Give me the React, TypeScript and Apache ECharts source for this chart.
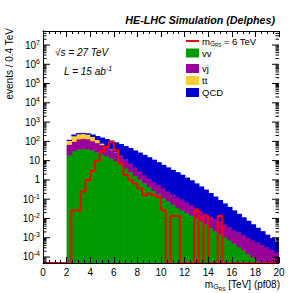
import React, { useEffect, useRef } from 'react';
import * as echarts from 'echarts';

// bin lower edges (TeV), bin width 0.4
const binLow = [
  0.0, 0.4, 0.8, 1.2, 1.6, 2.0, 2.4, 2.8, 3.2, 3.6,
  4.0, 4.4, 4.8, 5.2, 5.6, 6.0, 6.4, 6.8, 7.2, 7.6,
  8.0, 8.4, 8.8, 9.2, 9.6, 10.0, 10.4, 10.8, 11.2, 11.6,
  12.0, 12.4, 12.8, 13.2, 13.6, 14.0, 14.4, 14.8, 15.2, 15.6,
  16.0, 16.4, 16.8, 17.2, 17.6, 18.0, 18.4, 18.8, 19.2, 19.6,
];
const BIN_W = 0.4;

const vvValues = [
  0, 0, 0, 0, 0, 19.5, 31.6, 38.9, 41.7, 39.8,
  33.9, 27.5, 21.9, 17.4, 13.2, 9.55, 6.61, 4.17, 2.63, 1.66,
  1.05, 0.66, 0.417, 0.275, 0.178, 0.117, 0.0794, 0.0525, 0.0355, 0.0263,
  0.0191, 0.0141, 0.0105, 0.0076, 0.005, 0.0033, 0.0022, 0.0016, 0.0011, 0.00076,
  0.0005, 0.00033, 0.00022, 0.00014, 0.000095, 0.000063, 0, 0, 0, 0,
];
const vjValues = [
  0, 0, 0, 0, 0, 50, 68, 93, 100, 92,
  71, 56, 44, 33, 24, 16.8, 11.2, 7.0, 4.45, 2.81,
  1.77, 1.12, 0.75, 0.52, 0.36, 0.25, 0.17, 0.125, 0.097, 0.074,
  0.052, 0.036, 0.025, 0.0175, 0.0128, 0.0093, 0.0073, 0.0055, 0.0039, 0.0028,
  0.002, 0.00158, 0.0012, 0.00086, 0.00066, 0.0005, 0.00043, 0.00032, 0.00024, 0.00017,
];
const ttValues = [
  0, 0, 0, 0, 0, 40, 90, 108, 110, 97,
  69, 37, 13, 7.4, 2.6, 1.2, 0.5, 0.2, 0, 0,
  0, 0, 0, 0, 0, 0, 0, 0, 0, 0,
  0, 0, 0, 0, 0, 0, 0, 0, 0, 0,
  0, 0, 0, 0, 0, 0, 0, 0, 0, 0,
];
const qcdValues = [
  0, 0, 0, 0, 0, 11, 38, 29, 24, 34,
  55, 70, 79, 74, 70, 61.6, 54.1, 46.1, 37.6, 29.4,
  23.5, 18.2, 13.9, 10.4, 7.78, 5.67, 4.22, 3.13, 2.38, 1.76,
  1.25, 0.905, 0.625, 0.432, 0.298, 0.196, 0.128, 0.084, 0.0553, 0.0362,
  0.0238, 0.0155, 0.0101, 0.0066, 0.00425, 0.00275, 0.00176, 0.00113, 0.000715, 0.00046,
];
const signalValues = [
  0, 0, 0, 0, 0, 0, 0.027, 0.027, 0.25, 1.0,
  3.0, 10, 30, 53, 96, 35, 7.2, 1.8, 1.0, 0.66,
  0.37, 0.16, 0.2, 0.16, 0.126, 0.027, 0, 0.0135, 0.0135, 0,
  0, 0, 0.027, 0, 0.0135, 0, 0, 0.0135, 0, 0,
  0, 0, 0, 0, 0, 0, 0, 0, 0, 0,
];

// y tick labels (decades)
const yDecades = [-4, -3, -2, -1, 0, 1, 2, 3, 4, 5, 6, 7];
const yTickLabels = ['10{s|-4}', '10{s|-3}', '10{s|-2}', '10{s|-1}', '1', '10', '10{s|2}', '10{s|3}', '10{s|4}', '10{s|5}', '10{s|6}', '10{s|7}'];
const Y_MIN = 4.88e-5;
const Y_MAX = 5.33e7;

const FONT = '"Liberation Sans", Arial, Helvetica, sans-serif';

const layers = [
  { name: 'vv', values: vvValues, color: '#009900' },
  { name: 'vj', values: vjValues, color: '#990099' },
  { name: 'tt', values: ttValues, color: '#ffcc33' },
  { name: 'QCD', values: qcdValues, color: '#0000cc' },
];

export default function App() {
  const ref = useRef<HTMLDivElement>(null);
  useEffect(() => {
    if (!ref.current) return;
    const chart = echarts.init(ref.current, undefined, { renderer: 'svg' });

    // stacked layers
    const running = binLow.map(() => 0);
    const stackSeries = layers.map((layer, li) => {
      const data: number[][] = [];
      binLow.forEach((x, i) => {
        const v = layer.values[i];
        const lo = running[i];
        const hi = lo + v;
        running[i] = hi;
        if (v > 0 && hi > Y_MIN) data.push([x, x + BIN_W, Math.max(lo, Y_MIN), hi]);
      });
      return {
        type: 'custom',
        name: layer.name,
        z: 2 + li,
        encode: { x: [0, 1], y: [2, 3] },
        data,
        renderItem: (params: any, api: any) => {
          const p0 = api.coord([api.value(0), api.value(3)]);
          const p1 = api.coord([api.value(1), api.value(2)]);
          const cs = params.coordSys;
          const right = Math.min(p1[0] + 0.7, cs.x + cs.width);
          return {
            type: 'rect',
            shape: { x: p0[0], y: p0[1], width: right - p0[0], height: p1[1] - p0[1] + 0.3 },
            style: { fill: layer.color },
          };
        },
      };
    });

    // y ticks: decades (major, labelled) and 2..9 x 10^k (minor), ROOT style on left and right
    const yTickData: number[][] = [];
    yDecades.forEach((e, i) => yTickData.push([0, Math.pow(10, e), 1, i]));
    for (let e = -5; e <= 7; e++) {
      for (let m = 2; m <= 9; m++) {
        const v = m * Math.pow(10, e);
        if (v > Y_MIN && v < Y_MAX) yTickData.push([0, v, 0, -1]);
      }
    }

    const sigData = binLow.map((x, i) => [x, signalValues[i] > 0 ? signalValues[i] : Y_MIN]);
    const last = signalValues[signalValues.length - 1];
    sigData.push([20, last > 0 ? last : Y_MIN]);

    const xAxisCommon = {
      type: 'value',
      min: 0,
      max: 20,
      interval: 2,
      z: 10,
      axisLine: { show: true, lineStyle: { color: '#000', width: 1 } },
      axisTick: { show: true, inside: true, length: 6, lineStyle: { color: '#000' } },
      minorTick: { show: true, splitNumber: 4, length: 3, lineStyle: { color: '#000' } },
      splitLine: { show: false },
      minorSplitLine: { show: false },
    };
    const yAxisCommon = {
      type: 'log',
      min: Y_MIN,
      max: Y_MAX,
      logBase: 10,
      z: 10,
      axisLine: { show: true, lineStyle: { color: '#000', width: 1 } },
      axisTick: { show: false },
      axisLabel: { show: false },
      splitLine: { show: false },
    };

    const option: any = {
      animation: false,
      backgroundColor: '#fff',
      grid: { left: 43, right: 26, top: 31, bottom: 30, containLabel: false },
      xAxis: [
        {
          ...xAxisCommon,
          position: 'bottom',
          axisLabel: { show: true, margin: 4, fontSize: 10, color: '#000', fontFamily: FONT },
        },
        {
          ...xAxisCommon,
          position: 'top',
          axisLabel: { show: false },
        },
      ],
      yAxis: [
        { ...yAxisCommon, position: 'left' },
        { ...yAxisCommon, position: 'right' },
      ],
      series: [
        ...stackSeries,
        {
          type: 'line',
          name: 'signal',
          z: 8,
          step: 'end',
          symbol: 'none',
          data: sigData,
          lineStyle: { color: '#ff0000', width: 2 },
          clip: true,
        },
        {
          type: 'custom',
          name: 'yticks',
          z: 11,
          silent: true,
          clip: false,
          encode: { x: 0, y: 1 },
          data: yTickData,
          renderItem: (params: any, api: any) => {
            const cs = params.coordSys;
            const y = api.coord([0, api.value(1)])[1];
            const major = api.value(2) === 1;
            const len = major ? 7 : 3.5;
            const children: any[] = [
              { type: 'line', shape: { x1: cs.x, y1: y, x2: cs.x + len, y2: y }, style: { stroke: '#000', lineWidth: 1 } },
              { type: 'line', shape: { x1: cs.x + cs.width - len, y1: y, x2: cs.x + cs.width, y2: y }, style: { stroke: '#000', lineWidth: 1 } },
            ];
            if (major) {
              children.push({
                type: 'text',
                x: cs.x - 3,
                y,
                style: {
                  text: yTickLabels[api.value(3)],
                  align: 'right',
                  verticalAlign: 'middle',
                  fontSize: 10,
                  fontFamily: FONT,
                  fill: '#000',
                  rich: { s: { fontSize: 7, fontFamily: FONT, fill: '#000', padding: [0, 0, 6, 0] } },
                },
              });
            }
            return { type: 'group', children };
          },
        },
      ],
      graphic: [
        {
          type: 'text', x: 275, y: 20,
          style: { text: 'HE-LHC Simulation (Delphes)', align: 'right', verticalAlign: 'middle', fontSize: 10.7, fontWeight: 'bold', fontStyle: 'italic', fontFamily: FONT, fill: '#000' },
        },
        {
          type: 'text', x: 55, y: 52,
          style: { text: '√s = 27 TeV', align: 'left', verticalAlign: 'middle', fontSize: 10, fontStyle: 'italic', fontFamily: FONT, fill: '#000' },
        },
        {
          type: 'text', x: 64, y: 71,
          style: {
            text: 'L = 15 ab{s|-1}', align: 'left', verticalAlign: 'middle', fontSize: 10, fontStyle: 'italic', fontFamily: FONT, fill: '#000',
            rich: { s: { fontSize: 7, fontStyle: 'italic', fontFamily: FONT, fill: '#000', padding: [0, 0, 6, 0] } },
          },
        },
        {
          type: 'text', x: 9, y: 28, rotation: Math.PI / 2,
          style: { text: 'events / 0.4 TeV', align: 'right', verticalAlign: 'middle', fontSize: 10, fontFamily: FONT, fill: '#000' },
        },
        {
          type: 'text', x: 280, y: 284,
          style: {
            text: 'm{a|G}{b|RS} [TeV] (pf08)', align: 'right', verticalAlign: 'middle', fontSize: 10, fontFamily: FONT, fill: '#000',
            rich: {
              a: { fontSize: 7, fontFamily: FONT, fill: '#000', padding: [5, 0, 0, 0] },
              b: { fontSize: 5, fontFamily: FONT, fill: '#000', padding: [9, 0, 0, 0] },
            },
          },
        },
        // legend
        { type: 'line', shape: { x1: 186, y1: 41, x2: 199, y2: 41 }, style: { stroke: '#ff0000', lineWidth: 2 } },
        {
          type: 'text', x: 202, y: 41,
          style: {
            text: 'm{a|G}{b|RS} = 6 TeV', align: 'left', verticalAlign: 'middle', fontSize: 9.5, fontFamily: FONT, fill: '#000',
            rich: {
              a: { fontSize: 6.5, fontFamily: FONT, fill: '#000', padding: [5, 0, 0, 0] },
              b: { fontSize: 4.5, fontFamily: FONT, fill: '#000', padding: [9, 0, 0, 0] },
            },
          },
        },
        ...[
          { label: 'vv', color: '#009900', y: 53 },
          { label: 'vj', color: '#990099', y: 68.5 },
          { label: 'tt', color: '#ffcc33', y: 80.5 },
          { label: 'QCD', color: '#0000cc', y: 92.5 },
        ].flatMap((e) => [
          { type: 'rect', shape: { x: 186, y: e.y - 4.5, width: 13, height: 9 }, style: { fill: e.color } },
          { type: 'text', x: 202, y: e.y, style: { text: e.label, align: 'left', verticalAlign: 'middle', fontSize: 9.5, fontFamily: FONT, fill: '#000' } },
        ]),
      ],
    };
    chart.setOption(option);
    return () => chart.dispose();
  }, []);
  return <div ref={ref} style={{ position: 'fixed', left: 0, top: 0, width: 305, height: 293, background: '#fff' }} />;
}
